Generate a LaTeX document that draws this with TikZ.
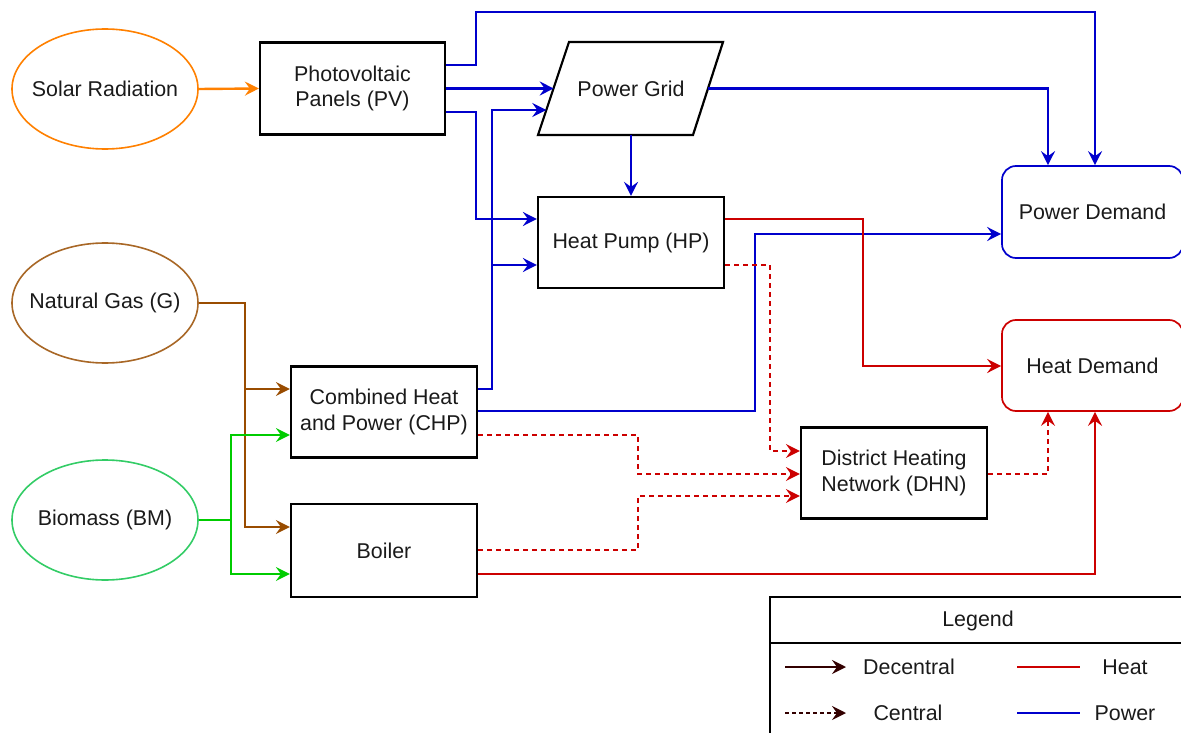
\documentclass[tikz,border=0pt]{standalone}
\usepackage{fontspec}
\setmainfont{Liberation Sans}
\usetikzlibrary{arrows.meta,shapes.geometric}
\definecolor{pwc}{HTML}{0000CC}
\definecolor{htc}{HTML}{CC0000}
\definecolor{orc}{HTML}{FF8000}
\definecolor{brc}{HTML}{994C00}
\definecolor{grc}{HTML}{00CC00}
\definecolor{gre}{HTML}{33CC66}
\definecolor{txt}{HTML}{1A1A1A}
\definecolor{dkb}{HTML}{330000}
\begin{document}
\begin{tikzpicture}[x=1pt,y=-1pt,
 every node/.style={font=\fontsize{21.4}{25.5}\selectfont, text=txt},
 proc/.style={draw=black, line width=2.2pt, minimum width=185pt, minimum height=92pt, inner sep=0pt, align=center},
 src/.style={ellipse, line width=1.6pt, minimum width=186pt, minimum height=120pt, inner sep=0pt},
 dem/.style={rounded corners=14pt, line width=1.7pt, minimum width=181pt, minimum height=92pt, inner sep=0pt},
 tipx/.style={-{Stealth[length=14pt,width=14pt,inset=5pt]}},
 flow/.style={line width=2.4pt, tipx},
 thin flow/.style={line width=2pt, tipx},
 pw/.style={flow, draw=pwc},
 ht/.style={flow, draw=htc},
 htd/.style={line width=1.9pt, tipx, draw=htc, dash pattern=on 5pt off 4pt},
]
\useasboundingbox (0,0) rectangle (1181,733);

% sources
\node[src, draw=orc] (sr) at (105,89) {\makebox[0pt]{Solar Radiation}};
\node[src, draw=brc!85!white] (ng) at (105,303) {\makebox[0pt]{Natural Gas (G)}};
\node[src, draw=gre] (bm) at (105,520) {\makebox[0pt]{Biomass (BM)}};

% processes
\node[proc] (pv) at (352.5,88.5) {Photovoltaic\\Panels (PV)};
\node[proc, minimum width=186pt, minimum height=91pt] (hp) at (631,242.5) {Heat Pump (HP)};
\node[proc, minimum width=186pt, minimum height=91pt] (chp) at (384,412) {Combined Heat\\and Power (CHP)};
\node[proc, minimum width=186pt, minimum height=93pt] (boiler) at (384,550.5) {Boiler};
\node[proc, minimum width=186pt, minimum height=91pt] (dhn) at (894,473) {District Heating\\Network (DHN)};

% power grid (parallelogram)
\coordinate (pgTL) at (569,42);
\coordinate (pgTR) at (723,42);
\coordinate (pgBR) at (693,135);
\coordinate (pgBL) at (538,135);
\draw[line width=2.2pt, line join=miter] (pgTL) -- (pgTR) -- (pgBR) -- (pgBL) -- cycle;
\node (pg) at (631,88.5) {Power Grid};
\coordinate (pgL1) at (553.7,88.5);
\coordinate (pgL2) at (546.3,110);
\coordinate (pgR) at (708,88.5);
\coordinate (pgB) at (631,135);

% demands
\node[dem, draw=pwc] (pd) at (1092.5,212) {Power Demand};
\node[dem, draw=htc, minimum height=91pt] (hd) at (1092.5,365.5) {Heat Demand};

% orange
\draw[flow, draw=orc] (sr.east) -- (pv.west);

% power flows
\draw[pw] (pv.east |- 0,65) -| (476,12) -| (pd.north -| 1095,0);
\draw[pw] (pv.east) -- (pgL1);
\draw[pw] (pv.east |- 0,112) -| (476,219) -- (hp.west |- 0,219);
\draw[pw] (pgR) -| (pd.north -| 1048,0);
\draw[pw] (pgB) -- (hp.north);
\draw[pw] (chp.east |- 0,389) -| (492,110) -- (pgL2);
\coordinate (j1) at (492,265);
\draw[pw] (j1) -- (hp.west |- 0,265);
\draw[pw] (chp.east |- 0,411) -| (755,234) -- (pd.west |- 0,234);

% heat flows
\draw[ht] (hp.east |- 0,219) -| (863,366) -- (hd.west |- 0,366);
\draw[ht] (boiler.east |- 0,574) -| (hd.south -| 1095,0);
\draw[htd] (hp.east |- 0,265) -| (770,451) -- (dhn.west |- 0,451);
\draw[htd] (chp.east |- 0,435) -| (638,474) -- (dhn.west |- 0,474);
\draw[htd] (boiler.east |- 0,550) -| (638,496) -- (dhn.west |- 0,496);
\draw[htd] (dhn.east |- 0,474) -| (hd.south -| 1048,0);

% fuel flows
\draw[thin flow, draw=brc] (ng.east) -| (245,389) -- (chp.west |- 0,389);
\coordinate (j2) at (245,389);
\draw[thin flow, draw=brc] (j2) |- (boiler.west |- 0,527);
\draw[thin flow, draw=grc] (bm.east) -| (231,435) -- (chp.west |- 0,435);
\coordinate (j3) at (231,520);
\draw[thin flow, draw=grc] (j3) |- (boiler.west |- 0,574);

% legend
\draw[line width=1.7pt] (770,745) -- (770,597) -- (1195,597);
\draw[line width=1.7pt] (770,643) -- (1195,643);
\node (lg) at (978,621) {Legend};
\coordinate (l1a) at (785,667);
\coordinate (l1b) at (846,667);
\coordinate (l2a) at (785,713);
\coordinate (l2b) at (846,713);
\coordinate (l3a) at (1017,667);
\coordinate (l3b) at (1080,667);
\coordinate (l4a) at (1017,713);
\coordinate (l4b) at (1080,713);
\draw[line width=1.8pt, draw=dkb, tipx] (l1a) -- (l1b);
\draw[line width=1.8pt, draw=dkb, tipx, dash pattern=on 4pt off 3pt] (l2a) -- (l2b);
\draw[line width=1.8pt, draw=htc] (l3a) -- (l3b);
\draw[line width=1.8pt, draw=pwc] (l4a) -- (l4b);
\node (ldec) at (909,667) {Decentral};
\node (lcen) at (908,713) {Central};
\node (lheat) at (1125,667) {Heat};
\node (lpow) at (1125,713) {Power};
\end{tikzpicture}
\end{document}
